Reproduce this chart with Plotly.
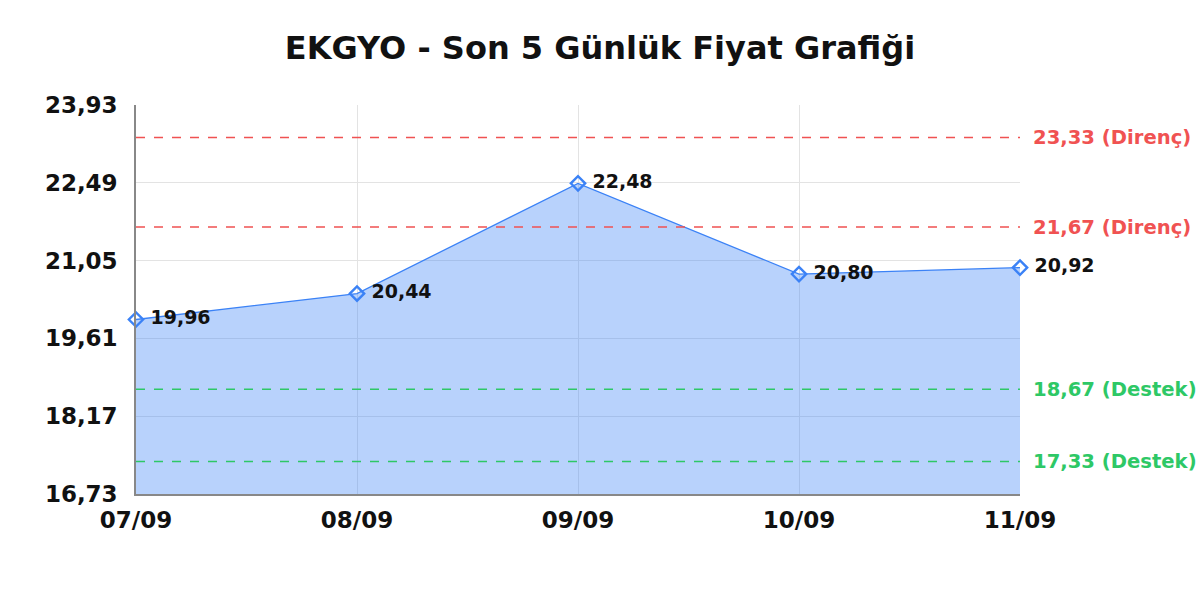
import plotly.graph_objects as go

# son 5 gunluk kapanis
dates = ["07/09", "08/09", "09/09", "10/09", "11/09"]
prices = [19.96, 20.44, 22.48, 20.80, 20.92]

y_ticks = [16.73, 18.17, 19.61, 21.05, 22.49, 23.93]

resistance = [23.33, 21.67]
support = [18.67, 17.33]

RED = "#f05252"
GREEN = "#2ec866"
BLUE = "#3b82f6"

fig = go.Figure()
fig.add_trace(go.Scatter(
    x=dates, y=prices,
    mode="lines+markers+text",
    fill="tozeroy",
    fillcolor="rgba(59,130,246,0.36)",
    line=dict(color=BLUE, width=1.3),
    marker=dict(symbol="diamond-open", size=11, color=BLUE, line=dict(width=2.4)),
    texttemplate=" %{y:.2f}",
    textposition="middle right",
    textfont=dict(family="DejaVu Sans", size=19, color="#111", weight="bold"),
    cliponaxis=False,
    hoverinfo="skip",
))

for val, color, name in ([(v, RED, "Direnç") for v in resistance]
                         + [(v, GREEN, "Destek") for v in support]):
    fig.add_shape(type="line", xref="paper", yref="y", x0=0, x1=1, y0=val, y1=val,
                  line=dict(color=color, width=1.5, dash="dash"))
    fig.add_annotation(xref="paper", yref="y", x=1.012, y=val, xanchor="left",
                       text=f"{val:.2f}".replace(".", ",") + f" ({name})",
                       showarrow=False,
                       font=dict(family="DejaVu Sans", size=19.6, color=color, weight="bold"))

fig.update_layout(
    width=1200, height=600,
    separators=",.",
    paper_bgcolor="white", plot_bgcolor="white",
    margin=dict(l=136, r=180, t=105, b=106),
    showlegend=False,
    title=dict(text="EKGYO - Son 5 Günlük Fiyat Grafiği", x=0.5, xanchor="center",
               y=1 - 48 / 600, yref="container", yanchor="middle",
               font=dict(family="DejaVu Sans", size=32, color="#111", weight="bold")),
    xaxis=dict(range=[0, 4], showgrid=True, gridcolor="#e3e3e3", gridwidth=1,
               showline=True, linecolor="#888", linewidth=1.5, ticks="",
               ticklabelstandoff=5,
               tickfont=dict(family="DejaVu Sans", size=23, color="#111", weight="bold"),
               fixedrange=True),
    yaxis=dict(range=[y_ticks[0], y_ticks[-1]], tickvals=y_ticks, tickformat=".2f",
               showgrid=True, gridcolor="#e3e3e3", gridwidth=1, zeroline=False,
               showline=True, linecolor="#888", linewidth=1.5, ticks="",
               ticklabelstandoff=12,
               tickfont=dict(family="DejaVu Sans", size=23, color="#111", weight="bold"),
               fixedrange=True),
)

# page default body margin pushes the figure out of the 1200x600 window
fig.write_html("out.html", config={"displayModeBar": False},
               post_script="document.body.style.margin='0';")
